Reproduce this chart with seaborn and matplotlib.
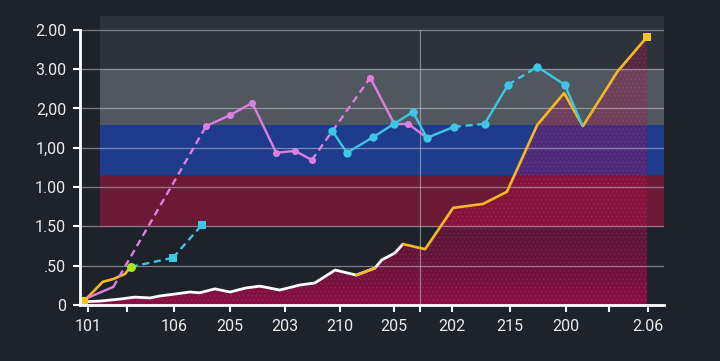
import numpy as np
import pandas as pd
import matplotlib
matplotlib.use("Agg")
import matplotlib.pyplot as plt
import seaborn as sns

# ---------------- data ----------------
# x positions expressed as percent of the axis width
area_x = [0, 3.4, 6.8, 9.4, 12.0, 13.7, 16.3, 18.8, 20.5, 23.1, 25.7, 28.3, 30.8, 34.2,
          37.7, 40.2, 43.7, 47.3, 50.5, 51.7, 53.9, 55.3, 59.1, 63.9, 69.0, 73.1, 78.3,
          82.9, 86.1, 92.0, 97.1]
area_y = [0.08, 0.10, 0.15, 0.20, 0.18, 0.23, 0.28, 0.33, 0.31, 0.41, 0.33, 0.43, 0.48,
          0.38, 0.51, 0.56, 0.89, 0.76, 0.94, 1.15, 1.32, 1.55, 1.42, 2.47, 2.57, 2.88,
          4.58, 5.39, 4.55, 5.93, 6.82]

gold_x = [0.7, 3.9, 5.7, 7.7, 8.7]
gold_y = [0.10, 0.59, 0.66, 0.79, 0.97]

pink_x = [0.5, 5.7, 21.6, 25.7, 29.5, 33.6, 36.8, 39.7, 49.7, 53.8, 56.2, 59.4]
pink_y = [0.13, 0.46, 4.55, 4.83, 5.14, 3.87, 3.92, 3.69, 5.78, 4.61, 4.61, 4.25]

cyan1_x = [8.7, 15.9, 20.9]
cyan1_y = [0.97, 1.20, 2.04]

cyan2_x = [43.2, 45.7, 50.2, 53.8, 57.0, 59.4, 64.0, 69.3, 73.3, 78.3, 83.0, 86.0]
cyan2_y = [4.43, 3.87, 4.27, 4.61, 4.91, 4.25, 4.53, 4.61, 5.60, 6.06, 5.60, 4.58]

xtick_pos = [1.4, 8.0, 16.1, 25.7, 35.1, 44.5, 53.8, 58.2, 63.7, 73.6, 83.2, 90.6, 97.3]
xtick_labels = ["101", "", "106", "205", "203", "210", "205", "", "202", "215", "200", "", "2.06"]
ytick_pos = [0, 1, 2, 3, 4, 5, 6, 7]
ytick_labels = ["0", ".50", "1.50", "1.00", "1,00", "2,00", "3.00", "2.00"]

band_edges = [1.98, 3.30, 4.58, 6.0, 7.35]
band_colors = ["#6a1a34", "#1f3b8c", "#50575e", "#2d323c"]
vline_x = 58.2

# ---------------- style ----------------
BG = "#1e222a"
sns.set_theme(style="dark")
plt.rcParams["font.family"] = ["Roboto", "DejaVu Sans"]
plt.rcParams["hatch.linewidth"] = 0.5

fig = plt.figure(figsize=(7.2, 3.61), dpi=100, facecolor=BG)
ax = fig.add_axes([80 / 720, 1 - 305 / 361, 584 / 720, 289 / 361])
ax.set_facecolor(BG)

XMAX = 100
YMAX = band_edges[-1]
band_xmin = 3.4 / XMAX

# bands
for lo, hi, c in zip(band_edges[:-1], band_edges[1:], band_colors):
    ax.axhspan(lo, hi, xmin=band_xmin, xmax=1, color=c, zorder=0.6, lw=0)

# gradient area fill
poly = ax.fill_between(area_x, area_y, 0, color="none", lw=0)
yy = np.linspace(0, YMAX, 256)
img = np.zeros((256, 1, 4))
img[:, 0, 0] = 0.74
img[:, 0, 1] = 0.02
img[:, 0, 2] = 0.31
img[:, 0, 3] = 0.26 + 0.44 * np.exp(-yy / 1.6)
im = ax.imshow(img, extent=[area_x[0], area_x[-1], 0, YMAX], origin="lower",
               aspect="auto", zorder=1.0, interpolation="bilinear")
im.set_clip_path(poly.get_paths()[0], transform=ax.transData)
ax.fill_between(area_x, area_y, 0, facecolor="none", edgecolor=(1, 0.6, 0.8, 0.13),
                hatch="....", linewidth=0, zorder=1.1)

# grid
ax.set_axisbelow("line")
ax.grid(axis="y", color="#c8c8d0", alpha=0.55, lw=0.9)
ax.grid(axis="x", visible=False)
ax.vlines([vline_x], 0, ytick_pos[-1], color="#c8c8d0", alpha=0.55, lw=0.9, zorder=1.5)


def segments(xs, ys, dashed=()):
    rows = []
    for i in range(len(xs) - 1):
        kind = "dashed" if i in dashed else "solid"
        rows.append((xs[i], ys[i], i, kind))
        rows.append((xs[i + 1], ys[i + 1], i, kind))
    return pd.DataFrame(rows, columns=["x", "y", "seg", "kind"])


DASHES = {"solid": "", "dashed": (3, 2)}

# white line (first part of the area)
white_df = pd.DataFrame({"x": area_x[:22], "y": area_y[:22]})
sns.lineplot(data=white_df, x="x", y="y", color="white", lw=2, ax=ax, zorder=3,
             estimator=None, sort=False)

# gold line
gold_parts = [pd.DataFrame({"x": gold_x, "y": gold_y, "u": 0}),
              pd.DataFrame({"x": area_x[17:19], "y": area_y[17:19], "u": 1}),
              pd.DataFrame({"x": area_x[21:], "y": area_y[21:], "u": 2})]
gold_df = pd.concat(gold_parts, ignore_index=True)
sns.lineplot(data=gold_df, x="x", y="y", units="u", estimator=None, color="#f5b823",
             lw=1.9, ax=ax, zorder=4, sort=False)

# pink
sns.lineplot(data=segments(pink_x, pink_y, dashed={1, 7}), x="x", y="y", units="seg",
             estimator=None, style="kind", dashes=DASHES, color="#de7ee0", lw=1.7,
             ax=ax, zorder=5, legend=False, sort=False)
sns.scatterplot(x=pink_x[2:], y=pink_y[2:], color="#de7ee0", s=26, marker="o",
                linewidth=0, ax=ax, zorder=6)

# cyan
sns.lineplot(data=segments(cyan1_x, cyan1_y, dashed={0, 1}), x="x", y="y", units="seg",
             estimator=None, style="kind", dashes=DASHES, color="#3ec6e6", lw=1.7,
             ax=ax, zorder=5, legend=False, sort=False)
sns.lineplot(data=segments(cyan2_x, cyan2_y, dashed={6, 8}), x="x", y="y", units="seg",
             estimator=None, style="kind", dashes=DASHES, color="#3ec6e6", lw=1.7,
             ax=ax, zorder=5, legend=False, sort=False)
sns.scatterplot(x=cyan1_x[1:], y=cyan1_y[1:], color="#3ec6e6", s=36, marker="s",
                linewidth=0, ax=ax, zorder=6)
sns.scatterplot(x=cyan2_x[:-1], y=cyan2_y[:-1], color="#3ec6e6", s=36, marker="o",
                linewidth=0, ax=ax, zorder=6)

# special markers
sns.scatterplot(x=[gold_x[-1]], y=[gold_y[-1]], color="#a8e61d", s=42, marker="o",
                linewidth=0, ax=ax, zorder=7)
sns.scatterplot(x=[gold_x[0], area_x[-1]], y=[gold_y[0], area_y[-1]], color="#f5c518",
                s=28, marker="s", linewidth=0, ax=ax, zorder=7)

# axes
ax.set_xlim(0, XMAX)
ax.set_ylim(0, YMAX)
ax.set_xticks(xtick_pos)
ax.set_xticklabels(xtick_labels)
ax.set_yticks(ytick_pos)
ax.set_yticklabels(ytick_labels)
ax.set_xlabel("")
ax.set_ylabel("")
for s in ["top", "right"]:
    ax.spines[s].set_visible(False)
for s in ["left", "bottom"]:
    ax.spines[s].set_visible(True)
    ax.spines[s].set_color("white")
    ax.spines[s].set_linewidth(2)
    ax.spines[s].set_zorder(8)
ax.spines["left"].set_bounds(0, ytick_pos[-1])
ax.tick_params(axis="both", colors="white", labelcolor="#ececec", labelsize=11.5,
               length=5, width=1.5, direction="out", bottom=True, left=True)
ax.tick_params(axis="x", pad=5)
ax.tick_params(axis="y", pad=5)

fig.savefig("out.png", dpi=100, facecolor=BG)
